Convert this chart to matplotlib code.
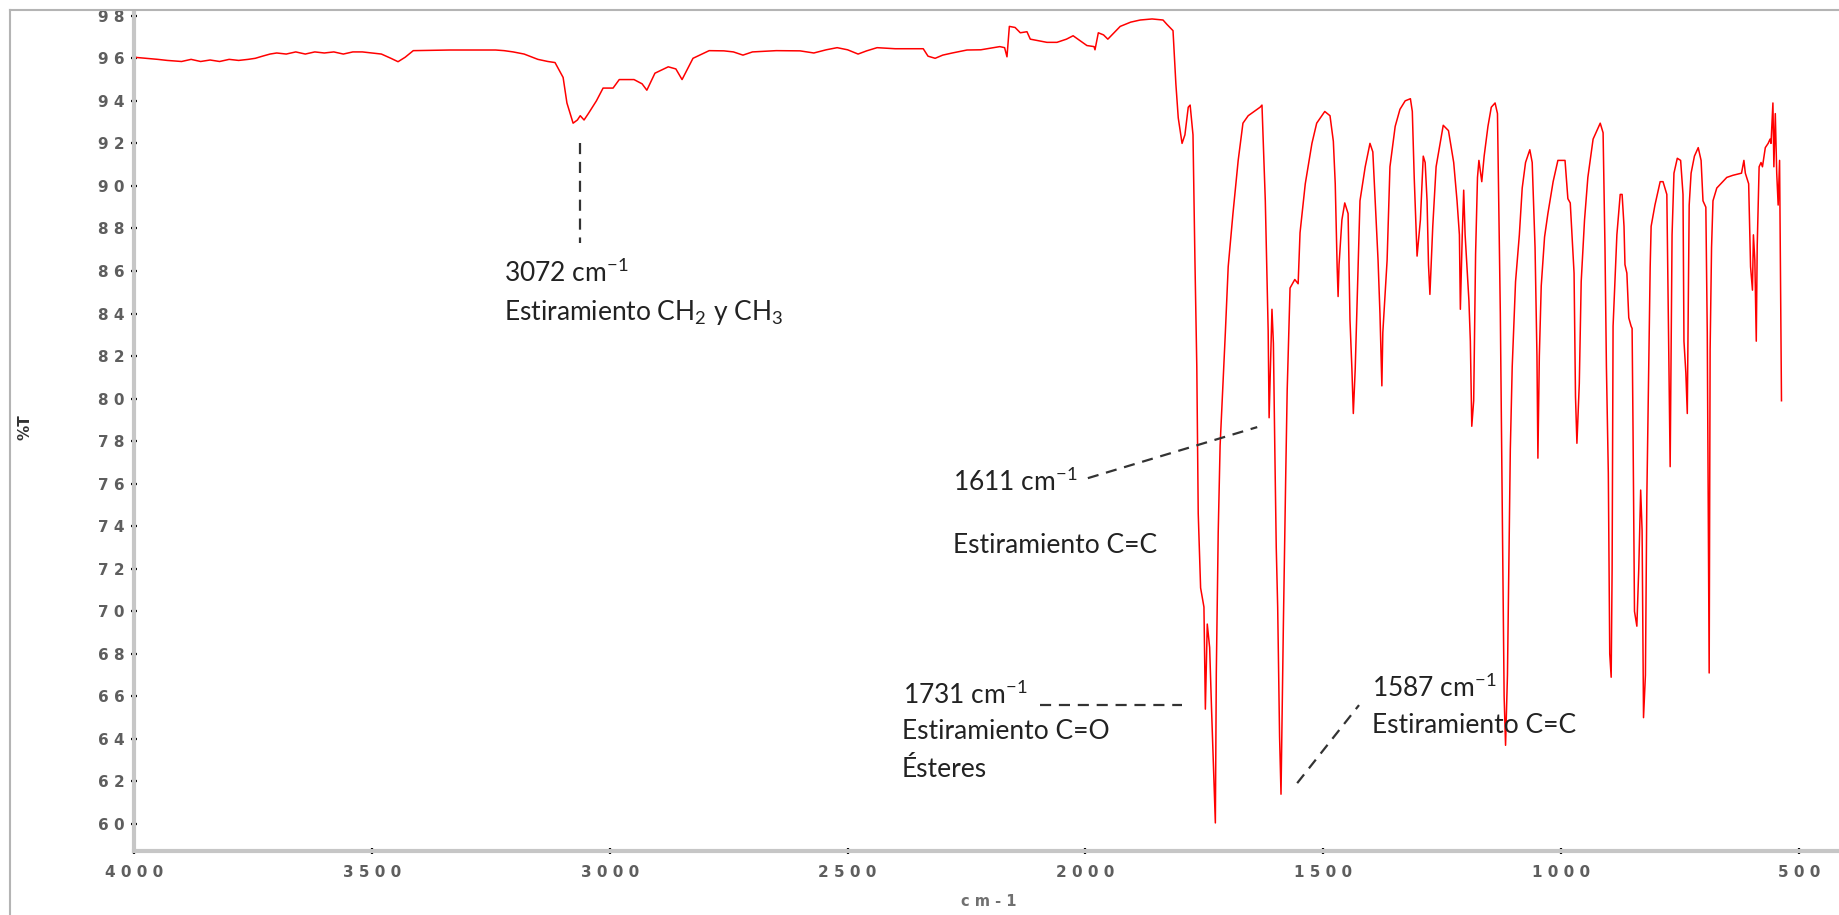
import matplotlib
matplotlib.use("Agg")
import matplotlib.pyplot as plt
from matplotlib.ticker import MultipleLocator, FixedLocator
from matplotlib.lines import Line2D

plt.rcParams['mathtext.default'] = 'regular'

# Espectro IR (numero de onda cm-1, %T)
numero_onda = [
    4000, 3975, 3950, 3930, 3900, 3880, 3860, 3840, 3820, 3800, 3780, 3760, 3745,
    3730, 3714, 3700, 3680, 3660, 3640, 3620, 3600, 3580, 3560, 3540, 3520, 3500,
    3480, 3460, 3445, 3430, 3413, 3336, 3240, 3222, 3203, 3180, 3151, 3130, 3115,
    3098, 3090, 3077, 3068, 3062, 3054, 3045, 3028, 3014, 2993, 2980, 2949, 2932,
    2922, 2905, 2877, 2861, 2848, 2825, 2791, 2760, 2740, 2720, 2700, 2650, 2600,
    2571, 2545, 2522, 2500, 2478, 2460, 2438, 2400, 2370, 2341, 2331, 2316, 2300,
    2280, 2249, 2220, 2180, 2170, 2165, 2160, 2148, 2137, 2123, 2116, 2104, 2081,
    2060, 2040, 2026, 2016, 1997, 1982, 1980, 1973, 1962, 1953, 1940, 1927, 1905,
    1885, 1860, 1837, 1829, 1816, 1810, 1805, 1797, 1791, 1784, 1780, 1774, 1770,
    1766, 1763, 1758, 1751, 1748, 1744, 1739, 1735, 1727, 1725, 1721, 1717, 1706,
    1700, 1690, 1679, 1669, 1658, 1633, 1629, 1622, 1616, 1614, 1608, 1605, 1602,
    1599, 1596, 1592, 1589, 1584, 1579, 1576, 1570, 1560, 1553, 1549, 1538, 1524,
    1514, 1497, 1486, 1479, 1475, 1471, 1469, 1467, 1461, 1455, 1448, 1444, 1440,
    1437, 1433, 1429, 1423, 1412, 1402, 1396, 1385, 1381, 1377, 1375, 1366, 1360,
    1349, 1339, 1328, 1317, 1313, 1309, 1303, 1296, 1290, 1286, 1282, 1279, 1276,
    1270, 1263, 1248, 1237, 1226, 1219, 1214, 1212, 1208, 1205, 1202, 1194, 1191,
    1188, 1184, 1180, 1176, 1173, 1167, 1162, 1154, 1147, 1139, 1134, 1128, 1124,
    1120, 1117, 1113, 1107, 1103, 1096, 1088, 1082, 1075, 1066, 1061, 1055, 1051,
    1049, 1046, 1042, 1035, 1028, 1017, 1007, 992, 986, 981, 973, 970, 967, 962,
    958, 951, 944, 933, 918, 912, 908, 905, 901, 898, 895, 893, 891, 883, 876, 872,
    868, 866, 862, 858, 853, 851, 849, 846, 841, 837, 833, 830, 827, 823, 820, 815,
    813, 811, 803, 792, 786, 778, 775, 771, 767, 763, 756, 749, 744, 742, 738, 735,
    731, 727, 720, 712, 706, 702, 696, 693, 689, 687, 684, 681, 673, 652, 639, 621,
    616, 613, 606, 602, 598, 596, 593, 590, 588, 584, 580, 577, 571, 565, 561, 559,
    555, 553, 550, 547, 544, 541, 537,
]
transmitancia = [
    96.05, 96.0, 95.95, 95.9, 95.85, 95.95, 95.85, 95.92, 95.85, 95.95, 95.9, 95.95, 96.0,
    96.1, 96.2, 96.25, 96.2, 96.3, 96.2, 96.3, 96.25, 96.3, 96.2, 96.3, 96.3, 96.25,
    96.2, 96.0, 95.84, 96.05, 96.36, 96.39, 96.39, 96.36, 96.3, 96.2, 95.95, 95.85, 95.8,
    95.1, 93.9, 92.95, 93.1, 93.3, 93.1, 93.4, 94.0, 94.6, 94.6, 95.0, 95.0, 94.8,
    94.5, 95.3, 95.6, 95.5, 95.0, 96.0, 96.36, 96.35, 96.3, 96.15, 96.3, 96.36, 96.35,
    96.25, 96.4, 96.5, 96.4, 96.2, 96.35, 96.5, 96.45, 96.45, 96.45, 96.1, 96.0, 96.15,
    96.25, 96.39, 96.4, 96.55, 96.5, 96.07, 97.5, 97.45, 97.2, 97.25, 96.9, 96.85, 96.75,
    96.75, 96.9, 97.06, 96.9, 96.6, 96.55, 96.4, 97.2, 97.1, 96.9, 97.2, 97.5, 97.7,
    97.8, 97.85, 97.8, 97.6, 97.3, 94.8, 93.2, 92.0, 92.4, 93.7, 93.8, 92.4, 86.6,
    81.5, 74.6, 71.1, 70.2, 65.4, 69.4, 68.3, 65.4, 60.05, 67.1, 73.7, 77.8, 83.1,
    86.2, 88.7, 91.2, 92.95, 93.3, 93.7, 93.8, 89.3, 83.2, 79.1, 84.2, 82.6, 77.6,
    73.0, 70.2, 64.1, 61.4, 69.4, 76.5, 80.4, 85.2, 85.6, 85.4, 87.8, 90.1, 92.0,
    92.95, 93.5, 93.3, 92.1, 90.1, 86.2, 84.8, 86.3, 88.4, 89.2, 88.7, 83.7, 81.4,
    79.3, 81.4, 84.6, 89.3, 90.9, 92.0, 91.6, 86.5, 84.0, 80.6, 83.1, 86.5, 90.9,
    92.8, 93.6, 94.0, 94.1, 93.5, 90.4, 86.7, 88.4, 91.4, 91.1, 89.3, 86.3, 84.9,
    88.1, 90.9, 92.85, 92.6, 91.1, 89.3, 87.7, 84.2, 87.7, 89.8, 87.7, 84.6, 82.7,
    78.7, 79.9, 86.8, 90.4, 91.2, 90.2, 91.4, 92.8, 93.7, 93.9, 93.4, 84.0, 75.0,
    66.0, 63.7, 67.0, 77.6, 81.5, 85.5, 87.7, 89.9, 91.1, 91.7, 91.1, 87.1, 82.0,
    77.2, 82.0, 85.3, 87.6, 88.7, 90.2, 91.2, 91.2, 89.4, 89.2, 85.9, 80.1, 77.9, 80.7,
    85.5, 88.4, 90.4, 92.2, 92.95, 92.5, 87.1, 81.5, 76.5, 68.0, 66.9, 72.0, 83.4, 87.7, 89.6, 89.6,
    88.1, 86.3, 85.9, 83.8, 83.4, 83.3, 78.4, 70.0, 69.3, 72.0, 75.7, 73.8, 65.0, 67.0, 75.4, 83.1,
    86.2, 88.1, 89.1, 90.2, 90.2, 89.6, 84.0, 76.8, 87.7, 90.6, 91.3, 91.2, 89.6, 82.7, 81.2, 79.3,
    89.1, 90.6, 91.4, 91.8, 91.2, 89.3, 89.0, 83.1, 67.1, 82.3, 87.1, 89.3, 89.9, 90.4, 90.5, 90.6,
    91.2, 90.6, 90.1, 86.2, 85.1, 87.7, 86.5, 82.7, 87.2, 90.9, 91.1, 90.9, 91.8, 92.0, 92.2, 92.0,
    93.9, 90.9, 93.4, 90.6, 89.1, 91.2, 79.9,
]

# ticks
x_ticks = [4000, 3500, 3000, 2500, 2000, 1500, 1000, 500]
y_ticks = list(range(60, 100, 2))

# anotaciones: texto (x, y), linea discontinua (x0, y0, x1, y1)
anot_textos = [
    (3222, 85.9, r'3072 cm$^{-1}$'),
    (3222, 84.07, r'Estiramiento CH$_2$ y CH$_3$'),
    (2278, 76.07, r'1611 cm$^{-1}$'),
    (2278, 73.1, 'Estiramiento C=C'),
    (2383, 66.06, r'1731 cm$^{-1}$'),
    (2386, 64.33, 'Estiramiento C=O'),
    (2386, 62.54, 'Ésteres'),
    (1398, 66.39, r'1587 cm$^{-1}$'),
    (1398, 64.65, 'Estiramiento C=C'),
]
anot_lineas = [
    (3062, 92.0, 3062, 87.3),
    (1995, 76.26, 1639, 78.66),
    (2096, 65.59, 1797, 65.59),
    (1555, 61.92, 1425, 65.59),
]

W, H = 1840, 915
fig = plt.figure(figsize=(W / 100, H / 100), dpi=100)
ax = fig.add_axes([134 / W, 64 / H, (W - 134) / W, (851 - 13) / H])

ax.plot(numero_onda, transmitancia, color='#ff0000', lw=1.1)

ax.set_xlim(4000, 414)
ax.set_ylim(58.73, 98.13)

for s in ['top', 'right']:
    ax.spines[s].set_visible(False)
for s in ['left', 'bottom']:
    ax.spines[s].set_color('#c6c6c6')
    ax.spines[s].set_linewidth(3)

ax.xaxis.set_major_locator(FixedLocator(x_ticks))
ax.xaxis.set_minor_locator(MultipleLocator(100))
ax.yaxis.set_major_locator(FixedLocator(y_ticks))
ax.yaxis.set_minor_locator(MultipleLocator(0.25))
ax.set_xticklabels([' '.join(str(t)) for t in x_ticks])
ax.set_yticklabels([' '.join(str(t)) for t in y_ticks])
ax.tick_params(which='major', direction='inout', length=4, width=1.6, color='black',
               labelsize=11, labelcolor='#5e5e5e', pad=5)
ax.tick_params(which='minor', direction='inout', length=2, width=1.0, color='#222222')
for lab in ax.get_xticklabels() + ax.get_yticklabels():
    lab.set_fontweight('bold')
ax.tick_params(axis='y', pad=5)
ax.tick_params(axis='x', pad=8)

fig.text(989 / W, 1 - 901 / H, 'c m - 1', ha='center', va='center',
         fontsize=10.5, color='#707070', fontweight='bold')
fig.text(25 / W, 1 - 427 / H, '%T', ha='center', va='center', rotation=90,
         fontsize=11, color='#333333', fontweight='bold')

for x, y, t in anot_textos:
    ax.text(x, y, t, ha='left', va='center', fontsize=19, family='Lato', color='#222222')
for x0, y0, x1, y1 in anot_lineas:
    ax.plot([x0, x1], [y0, y1], color='#333333', lw=1.6, dashes=(5, 3.5))

# marco gris de la ventana
fig.add_artist(Line2D([10 / W, 10 / W], [0, 1 - 10 / H], transform=fig.transFigure,
                      color='#b4b4b4', lw=1.5))
fig.add_artist(Line2D([10 / W, 1], [1 - 10 / H, 1 - 10 / H], transform=fig.transFigure,
                      color='#b4b4b4', lw=1.5))

fig.savefig('out.png', dpi=100, facecolor='white')
